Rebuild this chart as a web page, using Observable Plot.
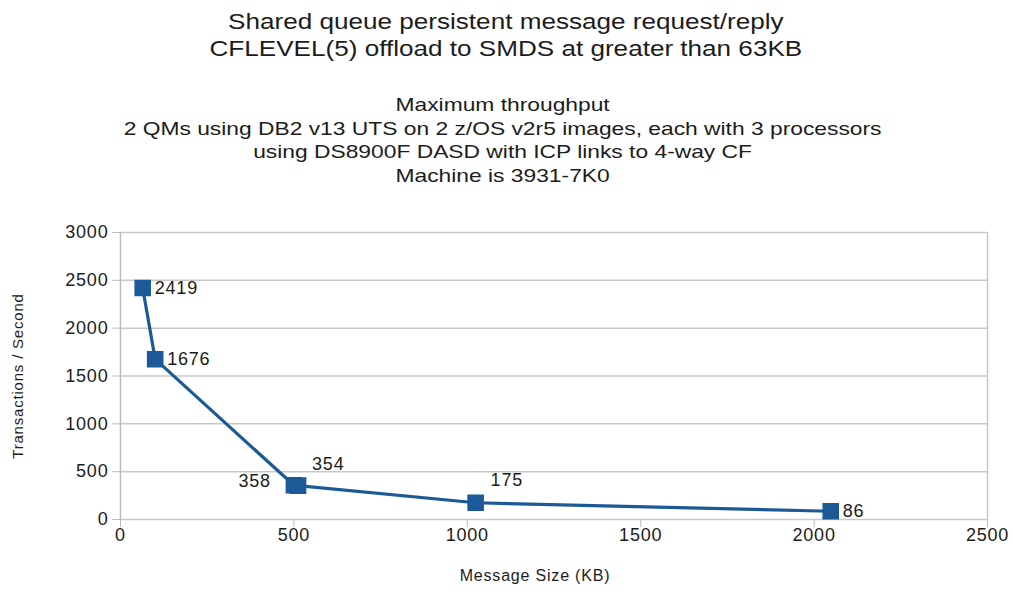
<!DOCTYPE html>
<html>
<head>
<meta charset="utf-8">
<script src="https://cdn.jsdelivr.net/npm/d3@7"></script>
<script src="https://cdn.jsdelivr.net/npm/@observablehq/plot@0.6"></script>
<style>
  html, body { margin: 0; padding: 0; background: #fff; }
  body { width: 1013px; height: 592px; overflow: hidden; font-family: "Liberation Sans", Arial, sans-serif; color: #1c1c1c; position: relative; }
  #title { position: absolute; left: 0; top: 8px; width: 1013px; text-align: center; font-size: 22px; line-height: 27px; transform: scaleX(1.186); transform-origin: 510px 0; }
  #subtitle { position: absolute; left: 0; top: 93px; width: 1005px; text-align: center; font-size: 19px; line-height: 23.5px; transform: scaleX(1.2); transform-origin: 502px 0; }
  #chart { position: absolute; left: 0; top: 210px; }
  #chart svg text { letter-spacing: 0.8px; }
  #chart g[aria-label="xtitle"] text { letter-spacing: 3.1px; }
  #chart g[aria-label="ytitle"] text { letter-spacing: 0px; }
</style>
</head>
<body>
<div id="title">Shared queue persistent message request/reply<br>CFLEVEL(5) offload to SMDS at greater than 63KB</div>
<div id="subtitle">Maximum throughput<br>2 QMs using DB2 v13 UTS on 2 z/OS v2r5 images, each with 3 processors<br>using DS8900F DASD with ICP links to 4-way CF<br>Machine is 3931-7K0</div>
<div id="chart"></div>
<script>
const messageSizeKB = [64, 100, 500, 512, 1024, 2048];
const transactionsPerSecond = [2419, 1676, 358, 354, 175, 86];
const xTicks = [0, 500, 1000, 1500, 2000, 2500];
const yTicks = [0, 500, 1000, 1500, 2000, 2500, 3000];
const xTitle = "Message Size (KB)";
const yTitle = "Transactions / Second";

const data = messageSizeKB.map((x, i) => ({ x, y: transactionsPerSecond[i], i }));
const lineColor = "#1b5a97";
const ink = "#1c1c1c";

const labelAt = (idx, opts) => Plot.text(data.filter(d => idx.includes(d.i)), {
  x: "x", y: "y", text: d => String(d.y), fontSize: 18, fill: ink, ...opts
});

const chart = Plot.plot({
  width: 1013,
  height: 382,
  marginTop: 22,
  marginBottom: 73,
  marginLeft: 120,
  marginRight: 26,
  style: { fontFamily: "Liberation Sans, Arial, sans-serif", background: "#fff" },
  x: { domain: [0, 2500], ticks: xTicks, label: null },
  y: { domain: [0, 3000], ticks: yTicks, label: null },
  marks: [
    Plot.gridY(yTicks, { stroke: "#c8c8c8", strokeOpacity: 1, strokeWidth: 1.5 }),
    Plot.ruleX([2500], { stroke: "#c8c8c8", strokeWidth: 1.5 }),
    Plot.ruleX([0], { stroke: "#bdbdbd", strokeWidth: 1.5, y1: 0, y2: 3000 }),
    Plot.axisX(xTicks, { tickSize: 8, tickPadding: 1, fontSize: 18, stroke: "#bdbdbd", fill: ink, tickFormat: d => String(d), label: null }),
    Plot.axisY(yTicks, { tickSize: 8, tickPadding: 4, fontSize: 18, stroke: "#bdbdbd", fill: ink, tickFormat: d => String(d), label: null }),
    Plot.text([xTitle], { frameAnchor: "bottom", dx: -19, dy: 61, fontSize: 16, fill: ink, ariaLabel: "xtitle" }),
    Plot.text([yTitle], { frameAnchor: "left", textAnchor: "middle", dx: -102, rotate: -90, fontSize: 15, fill: ink, ariaLabel: "ytitle" }),
    Plot.line(data, { x: "x", y: "y", stroke: lineColor, strokeWidth: 3.2 }),
    Plot.dot(data, { x: "x", y: "y", symbol: "square", r: 8.5, fill: lineColor, stroke: lineColor }),
    labelAt([0, 1, 5], { textAnchor: "start", dx: 12 }),
    labelAt([2], { textAnchor: "end", dx: -23, dy: -4 }),
    labelAt([3], { textAnchor: "start", dx: 14, dy: -21 }),
    labelAt([4], { textAnchor: "start", dx: 15, dy: -23 })
  ]
});
document.getElementById("chart").appendChild(chart);
</script>
</body>
</html>
